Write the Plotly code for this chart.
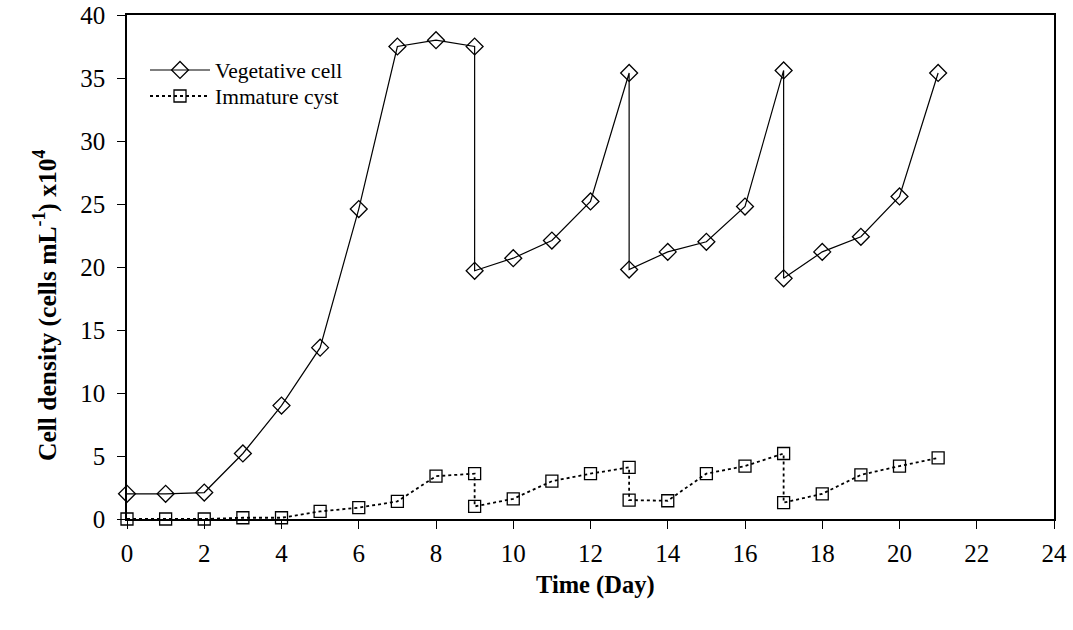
import plotly.graph_objects as go

days = [0, 1, 2, 3, 4, 5, 6, 7, 8, 9, 9, 10, 11, 12, 13, 13, 14, 15, 16, 17, 17, 18, 19, 20, 21]
vegetative = [2.0, 2.0, 2.1, 5.2, 9.0, 13.6, 24.6, 37.5, 38.0, 37.5, 19.7, 20.7, 22.1, 25.2, 35.4,
              19.8, 21.2, 22.0, 24.8, 35.6, 19.1, 21.2, 22.4, 25.6, 35.4]
immature = [0.0, 0.0, 0.0, 0.1, 0.1, 0.6, 0.9, 1.4, 3.4, 3.6, 1.0, 1.6, 3.0, 3.6, 4.1,
            1.5, 1.45, 3.6, 4.2, 5.2, 1.3, 2.0, 3.5, 4.2, 4.85]

FONT = "Liberation Serif, Times New Roman, serif"

fig = go.Figure()
fig.add_trace(go.Scatter(
    x=days, y=vegetative, name="Vegetative cell", mode="lines+markers",
    line=dict(color="black", width=1.2),
    marker=dict(symbol="diamond-open", size=13, color="black", line=dict(width=1.3)),
    cliponaxis=False, legend="legend",
))
fig.add_trace(go.Scatter(
    x=days, y=immature, name="Immature cyst", mode="lines+markers",
    line=dict(color="black", width=1.8, dash="dot"),
    marker=dict(symbol="square-open", size=12, color="black", line=dict(width=1.3)),
    cliponaxis=False, legend="legend2",
))

L, R, T, B = 127, 19, 15, 111
plot_w = 1073 - L - R
plot_h = 630 - T - B

def px_x(px):
    return (px - L) / plot_w

def px_y(py):
    return (630 - B - py) / plot_h

leg_common = dict(xanchor="left", yanchor="middle", bgcolor="rgba(0,0,0,0)",
                  font=dict(size=21.5, family=FONT), itemwidth=60, borderwidth=0)

fig.update_layout(
    template="none",
    width=1073, height=630,
    margin=dict(l=L, r=R, t=T, b=B, autoexpand=False),
    paper_bgcolor="white", plot_bgcolor="white",
    font=dict(family=FONT, size=25, color="black"),
    showlegend=True,
    legend=dict(x=px_x(145), y=px_y(70), **leg_common),
    legend2=dict(x=px_x(145), y=px_y(96), **leg_common),
    xaxis=dict(range=[0, 24], dtick=2, tick0=0, showgrid=False, zeroline=False,
               showline=True, linecolor="black", linewidth=1.5, mirror=True,
               ticks="outside", ticklen=8, tickcolor="black", ticklabelstandoff=3,
               automargin=False),
    yaxis=dict(range=[0, 40], dtick=5, tick0=0, showgrid=False, zeroline=False,
               showline=True, linecolor="black", linewidth=1.5, mirror=True,
               ticks="outside", ticklen=8, tickcolor="black", ticklabelstandoff=7,
               automargin=False),
    annotations=[
        dict(text="<b>Time (Day)</b>", x=px_x(595), y=px_y(585), xref="paper", yref="paper",
             xanchor="center", yanchor="middle", showarrow=False, font=dict(size=24.5)),
        dict(text="<b>Cell density (cells mL<sup>-1</sup>) x10<sup>4</sup></b>",
             x=px_x(45), y=px_y(306), xref="paper", yref="paper", showarrow=False,
             xanchor="center", yanchor="middle",
             textangle=-90, font=dict(size=25.5)),
    ],
)

fig.write_html("out.html")
